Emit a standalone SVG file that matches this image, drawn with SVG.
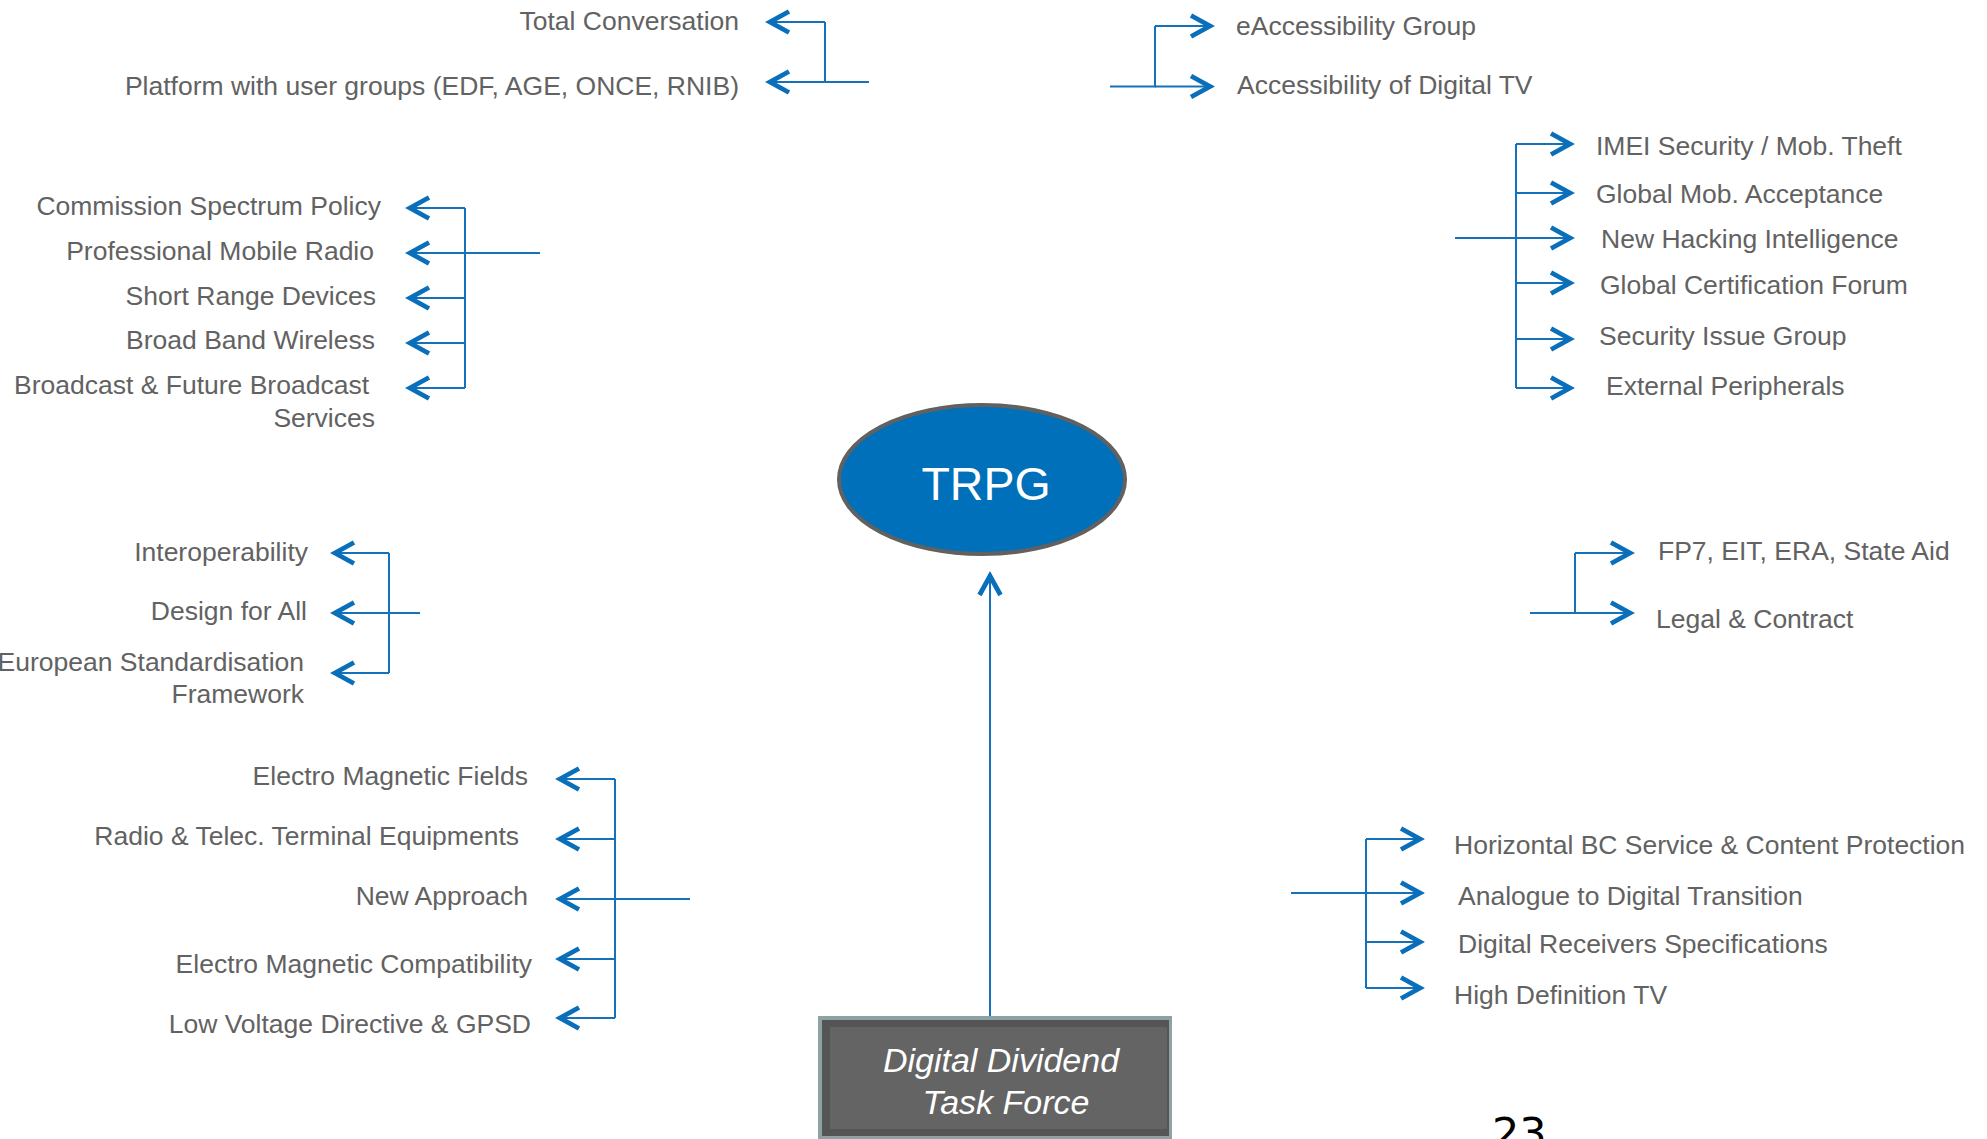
<svg xmlns="http://www.w3.org/2000/svg" width="1987" height="1139" viewBox="0 0 1987 1139">
<defs>
<style>
.lbl{font-family:"Liberation Sans",Arial,sans-serif;font-size:26.5px;fill:#626262}
.end{text-anchor:end}
.conn{fill:none;stroke:#1572BA;stroke-width:2}
.arr{marker-end:url(#chev)}
</style>
<marker id="chev" markerUnits="userSpaceOnUse" viewBox="0 0 30 26" markerWidth="30" markerHeight="26" refX="25" refY="13" orient="auto" overflow="visible">
<path d="M3,2.5 L22,13 L3,23.5" fill="none" stroke="#0A6FBA" stroke-width="4.8"/>
</marker>
</defs>
<rect width="1987" height="1139" fill="#ffffff"/>

<g id="connectors">
<path class="conn" d="M869,82 H825 V22"/>
<path class="conn arr" d="M825,22 H767"/>
<path class="conn arr" d="M825,82 H767"/>
<path class="conn" d="M1110,86.5 H1155 V26"/>
<path class="conn arr" d="M1155,26 H1213"/>
<path class="conn arr" d="M1155,86.5 H1213"/>
<path class="conn" d="M540,253 H465 M465,208 V388"/>
<path class="conn arr" d="M465,208 H407"/>
<path class="conn arr" d="M465,253 H407"/>
<path class="conn arr" d="M465,298 H407"/>
<path class="conn arr" d="M465,343 H407"/>
<path class="conn arr" d="M465,388 H407"/>
<path class="conn" d="M1455,238 H1516 M1516,144 V388"/>
<path class="conn arr" d="M1516,144 H1573"/>
<path class="conn arr" d="M1516,193 H1573"/>
<path class="conn arr" d="M1516,238 H1573"/>
<path class="conn arr" d="M1516,283 H1573"/>
<path class="conn arr" d="M1516,339 H1573"/>
<path class="conn arr" d="M1516,388 H1573"/>
<path class="conn" d="M420,613 H389 M389,553 V673"/>
<path class="conn arr" d="M389,553 H332"/>
<path class="conn arr" d="M389,613 H332"/>
<path class="conn arr" d="M389,673 H332"/>
<path class="conn" d="M1530,613 H1575 V553"/>
<path class="conn arr" d="M1575,553 H1633"/>
<path class="conn arr" d="M1575,613 H1633"/>
<path class="conn" d="M690,899 H615 M615,779 V1018"/>
<path class="conn arr" d="M615,779 H557"/>
<path class="conn arr" d="M615,839 H557"/>
<path class="conn arr" d="M615,899 H557"/>
<path class="conn arr" d="M615,959 H557"/>
<path class="conn arr" d="M615,1018 H557"/>
<path class="conn" d="M1291,893 H1366 M1366,839 V988"/>
<path class="conn arr" d="M1366,839 H1423"/>
<path class="conn arr" d="M1366,893 H1423"/>
<path class="conn arr" d="M1366,942 H1423"/>
<path class="conn arr" d="M1366,988 H1423"/>
<path class="conn arr" d="M990,1016 V573"/>
</g>

<g id="trpg">
<ellipse cx="982" cy="479.5" rx="143" ry="74.5" fill="#0070BA" stroke="#616161" stroke-width="4"/>
<text x="986" y="500" text-anchor="middle" font-family="Liberation Sans, Arial, sans-serif" font-size="46.5" fill="#ffffff">TRPG</text>
</g>

<g id="ddtf">
<rect x="818" y="1016" width="354" height="135" fill="#8EA2A6"/>
<rect x="822" y="1020" width="347" height="116" fill="#555555"/>
<rect x="830" y="1027" width="337" height="102" fill="#646464"/>
<text x="1001" y="1072" text-anchor="middle" font-family="Liberation Sans, Arial, sans-serif" font-size="34" font-style="italic" fill="#ffffff">Digital Dividend</text>
<text x="1006" y="1114" text-anchor="middle" font-family="Liberation Sans, Arial, sans-serif" font-size="34" font-style="italic" fill="#ffffff">Task Force</text>
</g>

<g id="n-total-conversation"><text class="lbl end" x="739" y="30">Total Conversation</text></g>
<g id="n-platform"><text class="lbl end" x="739" y="95">Platform with user groups (EDF, AGE, ONCE, RNIB)</text></g>
<g id="n-eaccessibility"><text class="lbl" x="1236" y="35">eAccessibility Group</text></g>
<g id="n-access-dtv"><text class="lbl" x="1237" y="94">Accessibility of Digital TV</text></g>

<g id="n-spectrum-policy"><text class="lbl end" x="381" y="215">Commission Spectrum Policy</text></g>
<g id="n-pmr"><text class="lbl end" x="374" y="260">Professional Mobile Radio</text></g>
<g id="n-srd"><text class="lbl end" x="376" y="305">Short Range Devices</text></g>
<g id="n-bbw"><text class="lbl end" x="375" y="349">Broad Band Wireless</text></g>
<g id="n-broadcast"><text class="lbl end" x="369" y="394">Broadcast &amp; Future Broadcast</text><text class="lbl end" x="375" y="427">Services</text></g>

<g id="n-imei"><text class="lbl" x="1596" y="155">IMEI Security / Mob. Theft</text></g>
<g id="n-global-mob"><text class="lbl" x="1596" y="203">Global Mob. Acceptance</text></g>
<g id="n-hacking"><text class="lbl" x="1601" y="248">New Hacking Intelligence</text></g>
<g id="n-gcf"><text class="lbl" x="1600" y="294">Global Certification Forum</text></g>
<g id="n-sig"><text class="lbl" x="1599" y="345">Security Issue Group</text></g>
<g id="n-peripherals"><text class="lbl" x="1606" y="395">External Peripherals</text></g>

<g id="n-interop"><text class="lbl end" x="308" y="561">Interoperability</text></g>
<g id="n-dfa"><text class="lbl end" x="307" y="620">Design for All</text></g>
<g id="n-esf"><text class="lbl end" x="304" y="671">European Standardisation</text><text class="lbl end" x="304" y="703">Framework</text></g>

<g id="n-fp7"><text class="lbl" x="1658" y="560">FP7, EIT, ERA, State Aid</text></g>
<g id="n-legal"><text class="lbl" x="1656" y="628">Legal &amp; Contract</text></g>

<g id="n-emf"><text class="lbl end" x="528" y="785">Electro Magnetic Fields</text></g>
<g id="n-rtte"><text class="lbl end" x="519" y="845">Radio &amp; Telec. Terminal Equipments</text></g>
<g id="n-new-approach"><text class="lbl end" x="528" y="905">New Approach</text></g>
<g id="n-emc"><text class="lbl end" x="532" y="973">Electro Magnetic Compatibility</text></g>
<g id="n-lvd"><text class="lbl end" x="531" y="1033">Low Voltage Directive &amp; GPSD</text></g>

<g id="n-hbc"><text class="lbl" x="1454" y="854">Horizontal BC Service &amp; Content Protection</text></g>
<g id="n-a2d"><text class="lbl" x="1458" y="905">Analogue to Digital Transition</text></g>
<g id="n-drs"><text class="lbl" x="1458" y="953">Digital Receivers Specifications</text></g>
<g id="n-hdtv"><text class="lbl" x="1454" y="1004">High Definition TV</text></g>

<text x="1492" y="1148" font-family="DejaVu Sans, sans-serif" font-size="43" fill="#000000">23</text>
</svg>
